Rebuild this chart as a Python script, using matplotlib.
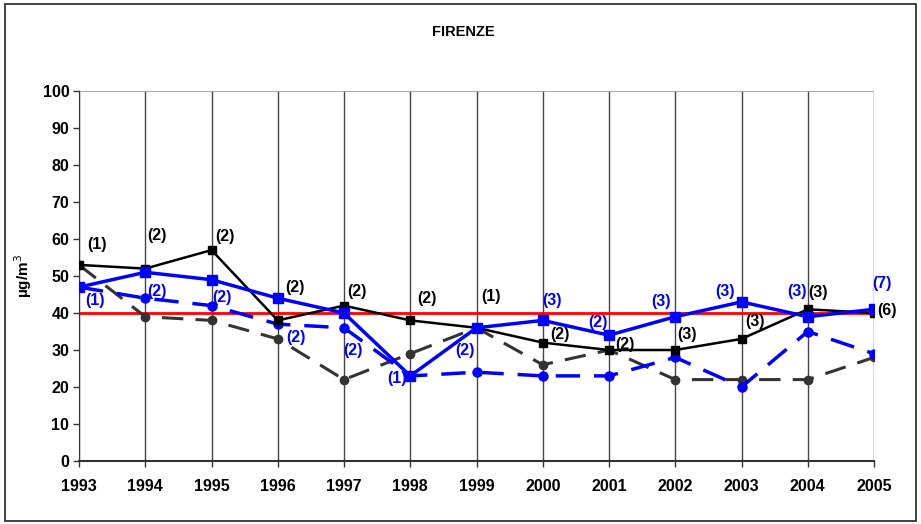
import matplotlib.pyplot as plt
from matplotlib.patches import Rectangle

plt.rcParams['font.family'] = ['Liberation Sans', 'DejaVu Sans']

years = list(range(1993, 2006))

# black solid, squares
serie_nera = [53, 52, 57, 38, 42, 38, 36, 32, 30, 30, 33, 41, 40]
# blue solid, squares
serie_blu = [47, 51, 49, 44, 40, 23, 36, 38, 34, 39, 43, 39, 41]
# blue dashed, circles
serie_blu_tratt = [47, 44, 42, 37, 36, 23, 24, 23, 23, 28, 20, 35, 29]
# grey dashed, circles
serie_grigia_tratt = [53, 39, 38, 33, 22, 29, 36, 26, 30, 22, 22, 22, 28]

limite = 40

etichette_nere = ["(1)", "(2)", "(2)", "(2)", "(2)", "(2)", "(1)", "(2)", "(2)", "(3)", "(3)", "(3)", "(6)"]
etichette_blu = ["(1)", "(2)", "(2)", "(2)", "(2)", "(1)", "(2)", "(3)", "(2)", "(3)", "(3)", "(3)", "(7)"]

# label offsets in pixels (dx, dy)
off_nere = [(18, 20), (12, 33), (13, 14), (17, 33), (13, 14), (17, 22), (15, 31),
            (17, 8), (16, 5), (12, 15), (13, 17), (10, 17), (13, 3)]
off_blu = [(16, -13), (12, -19), (10, -18), (18, -39), (9, -37), (-13, -3), (-12, -23),
           (9, 20), (-11, 13), (-14, 15), (-17, 10), (-11, 25), (8, 26)]

fig = plt.figure(figsize=(9.21, 5.24), dpi=100)
ax = fig.add_axes([79 / 921, 1 - 461 / 524, (874 - 79) / 921, (461 - 91) / 524])

fig.patches.append(Rectangle((5 / 921, 3 / 524), 911 / 921, 517 / 524, transform=fig.transFigure,
                             fill=False, edgecolor='#222222', linewidth=1.2))

for y in years:
    ax.axvline(y, color='#444444', linewidth=1.0, zorder=1)
ax.axhline(100, color='#999999', linewidth=1.2, zorder=1)

ax.plot(years, [limite] * len(years), color='red', linewidth=2.0, zorder=2)

ax.plot(years, serie_grigia_tratt, color='#333333', linewidth=2.2, dashes=(7, 4),
        marker='o', markersize=6, zorder=3)
ax.plot(years, serie_blu_tratt, color='blue', linewidth=2.5, dashes=(7, 4),
        marker='o', markersize=6.5, zorder=4)
ax.plot(years, serie_nera, color='black', linewidth=1.8, marker='s', markersize=6, zorder=5)
ax.plot(years, serie_blu, color='blue', linewidth=2.5, marker='s', markersize=6.5, zorder=6)

for x, v, t, (dx, dy) in zip(years, serie_nera, etichette_nere, off_nere):
    ax.annotate(t, (x, v), xytext=(dx, dy), textcoords='offset pixels', ha='center', va='center',
                fontsize=11.5, fontweight='bold', color='black', annotation_clip=False, zorder=7)
for x, v, t, (dx, dy) in zip(years, serie_blu, etichette_blu, off_blu):
    ax.annotate(t, (x, v), xytext=(dx, dy), textcoords='offset pixels', ha='center', va='center',
                fontsize=11.5, fontweight='bold', color='blue', annotation_clip=False, zorder=7)

ax.set_xlim(1993, 2005)
ax.set_ylim(0, 100)
ax.set_xticks(years)
ax.set_xticklabels([str(y) for y in years])
ax.set_yticks(range(0, 101, 10))
ax.tick_params(axis='both', direction='out', length=4, width=1, color='#333333',
               labelsize=11.5)
for lab in ax.get_xticklabels() + ax.get_yticklabels():
    lab.set_fontweight('bold')
ax.tick_params(axis='x', pad=9)
ax.tick_params(axis='y', pad=3)

for side in ['top', 'right']:
    ax.spines[side].set_visible(False)
ax.spines['left'].set_color('#333333')
ax.spines['bottom'].set_color('#333333')
ax.spines['bottom'].set_linewidth(1.5)

ax.set_ylabel('µg/m$^3$', fontsize=11, fontweight='bold', labelpad=6)
fig.text(463 / 921, 1 - 32 / 524, 'FIRENZE', ha='center', va='center', fontsize=10.5, fontweight='bold')

fig.savefig('out.png', dpi=100)
